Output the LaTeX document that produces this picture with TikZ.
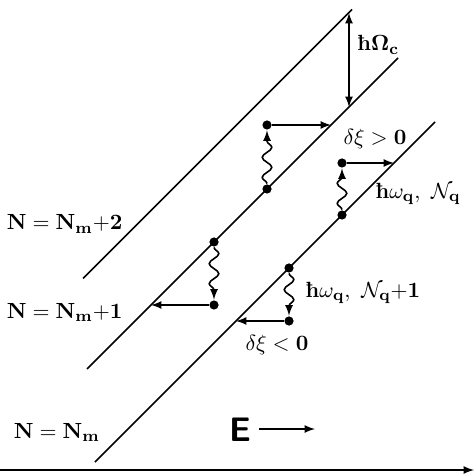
\documentclass[tikz,border=0pt]{standalone}
\usepackage{amsmath,amssymb}
\usepackage{tikz}
\usetikzlibrary{decorations.pathmorphing}
\newcommand{\hb}{\mbox{\bfseries ħ}}

\begin{document}
\begin{tikzpicture}[x=0.5pt,y=-0.5pt,>=latex,line width=0.8pt,
    font=\fontsize{11}{13}\selectfont,
    dot/.style={circle,fill,inner sep=0pt,minimum size=4.6pt},
    wavy/.style={->,decorate,decoration={snake,amplitude=2.4pt,segment length=10pt,post length=3pt}}]
      \useasboundingbox (0,0) rectangle (474,474);
      % Landau levels
      \draw (83,278.5) -- (352,9.5);
      \draw (87,369) -- (398,58);
      \draw (95,462) -- (435,122);
      \draw [<->] (349,13) -- (349,107);
      \node[anchor=west] (omc) at (350,45) {$\hb\mathbf{\Omega_c}$};
      % absorption
      \node[dot] (a1) at (267,189) {};
      \node[dot] (a2) at (267,125) {};
      \coordinate (a3) at (331,125);
      \draw [wavy] (a1) -- (a2);
      \draw [->] (a2) -- (a3);
      \node[dot] (b1) at (342,215) {};
      \node[dot] (b2) at (342,163) {};
      \coordinate (b3) at (394,163);
      \draw [wavy] (b1) -- (b2);
      \draw [->] (b2) -- (b3);
      % emission
      \node[dot] (c1) at (214,242) {};
      \node[dot] (c2) at (214,305) {};
      \coordinate (c3) at (151,305);
      \draw [wavy] (c1) -- (c2);
      \draw [->] (c2) -- (c3);
      \node[dot] (d1) at (289,268) {};
      \node[dot] (d2) at (289,321) {};
      \coordinate (d3) at (236,321);
      \draw [wavy] (d1) -- (d2);
      \draw [->] (d2) -- (d3);
      % labels
      \node (dxp) at (375,139) {$\delta\xi>\mathbf{0}$};
      \node (absl) at (418,194) {$\hb\omega_{\mathbf{q}},\ \mathcal{N}_{\mathbf{q}}$};
      \node (emil) at (363,293) {$\hb\omega_{\mathbf{q}},\ \mathcal{N}_{\mathbf{q}}{+}\mathbf{1}$};
      \node (dxm) at (277,345) {$\delta\xi<\mathbf{0}$};
      \node[anchor=base west,inner sep=0pt] (n2) at (6,230) {$\mathbf{N}=\mathbf{N_m}{+}\mathbf{2}$};
      \node[anchor=base west,inner sep=0pt] (n1) at (6,318) {$\mathbf{N}=\mathbf{N_m}{+}\mathbf{1}$};
      \node[anchor=base west,inner sep=0pt] (n0) at (13,438) {$\mathbf{N}=\mathbf{N_m}$};
      % field
      \node (E) at (240,430) {\sffamily\bfseries\fontsize{17}{20}\selectfont E};
      \coordinate (e1) at (259,429);
      \coordinate (e2) at (315,429);
      \draw [->] (e1) -- (e2);
      \coordinate (x0) at (0,470);
      \coordinate (x1) at (474,470);
      \draw [->] (x0) -- (x1);
    \end{tikzpicture}
\end{document}
